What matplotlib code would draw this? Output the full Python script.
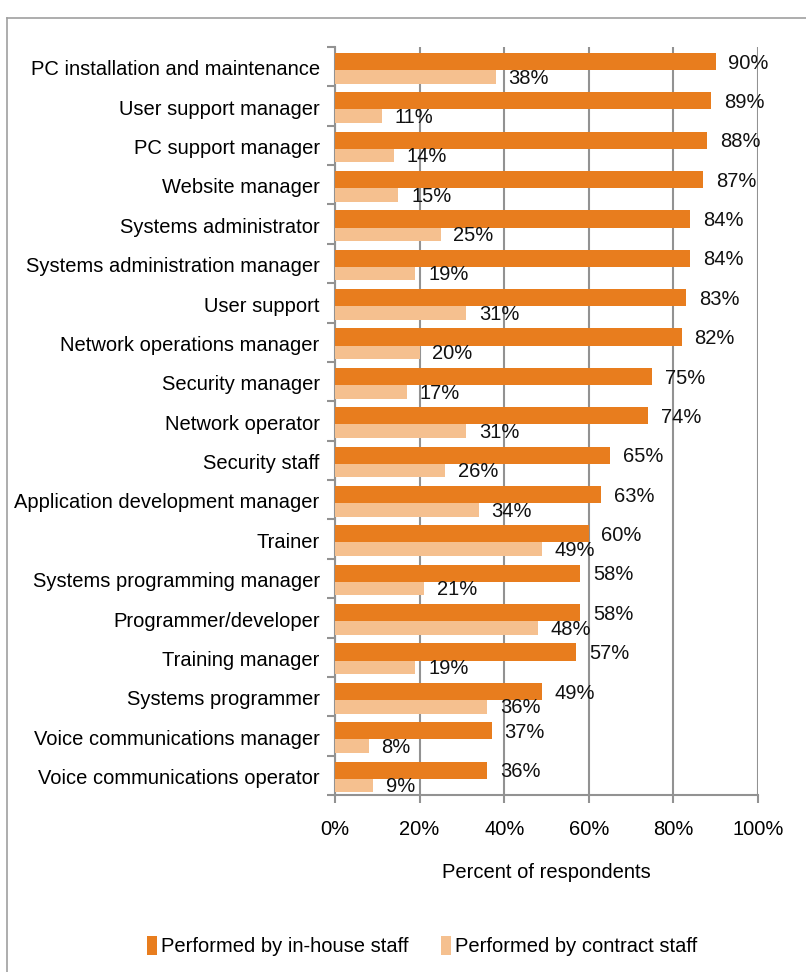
import matplotlib.pyplot as plt
from matplotlib.lines import Line2D
import numpy as np

plt.rcParams['font.family'] = ['Liberation Sans', 'DejaVu Sans']

roles = [
    "PC installation and maintenance",
    "User support manager",
    "PC support manager",
    "Website manager",
    "Systems administrator",
    "Systems administration manager",
    "User support",
    "Network operations manager",
    "Security manager",
    "Network operator",
    "Security staff",
    "Application development manager",
    "Trainer",
    "Systems programming manager",
    "Programmer/developer",
    "Training manager",
    "Systems programmer",
    "Voice communications manager",
    "Voice communications operator",
]
in_house = [90, 89, 88, 87, 84, 84, 83, 82, 75, 74, 65, 63, 60, 58, 58, 57, 49, 37, 36]
contract = [38, 11, 14, 15, 25, 19, 31, 20, 17, 31, 26, 34, 49, 21, 48, 19, 36, 8, 9]
xticks = [0, 20, 40, 60, 80, 100]

orange = "#E87D1E"
light = "#F5C08F"
gray = "#929292"
fs = 14.5

fig = plt.figure(figsize=(8.06, 9.72), dpi=100)

# outer chart frame (runs off the right and bottom edges)
fig.add_artist(Line2D([7 / 806, 7 / 806], [0, 1 - 18 / 972], transform=fig.transFigure,
                      color="#A0A0A0", lw=1.2))
fig.add_artist(Line2D([7 / 806, 1], [1 - 18 / 972, 1 - 18 / 972], transform=fig.transFigure,
                      color="#A0A0A0", lw=1.2))

ax = fig.add_axes([335 / 806, 1 - 795 / 972, 423 / 806, 748 / 972])

pos = np.arange(len(roles))
ax.barh(pos + 0.15, in_house, height=0.435, align='edge', color=orange,
        label="Performed by in-house staff", zorder=3)
ax.barh(pos + 0.585, contract, height=0.345, align='edge', color=light,
        label="Performed by contract staff", zorder=3)

for i, (a, b) in enumerate(zip(in_house, contract)):
    ax.text(a + 3, i + 0.41, f"{a}%", va='center', ha='left', fontsize=fs, color='#111111', zorder=4)
    ax.text(b + 3, i + 0.79, f"{b}%", va='center', ha='left', fontsize=fs, color='#111111', zorder=4)

ax.set_xlim(0, 100)
ax.set_ylim(len(roles), 0)
ax.set_xticks(xticks)
ax.set_xticklabels([f"{t}%" for t in xticks], fontsize=fs)
ax.set_yticks(np.arange(len(roles) + 1))
ax.set_yticklabels([])
ax.set_yticks(pos + 0.53, minor=True)
ax.set_yticklabels(roles, minor=True, fontsize=fs)
ax.tick_params(axis='y', which='minor', length=0, pad=11)
ax.tick_params(axis='y', which='major', length=6, color=gray, width=1.5)
ax.tick_params(axis='x', length=6, color=gray, width=1.5, pad=12)

ax.grid(axis='x', color=gray, lw=1.5, zorder=0)
for side in ['top', 'right']:
    ax.spines[side].set_visible(False)
for side in ['left', 'bottom']:
    ax.spines[side].set_color(gray)
    ax.spines[side].set_linewidth(1.5)

ax.set_xlabel("Percent of respondents", fontsize=fs, labelpad=17)

fig.legend(loc='center', bbox_to_anchor=(422 / 806, 1 - 946 / 972), ncol=2, frameon=False,
           fontsize=fs, handlelength=0.5, handleheight=1.1, handletextpad=0.2, columnspacing=1.6)

fig.savefig("out.png", dpi=100)
